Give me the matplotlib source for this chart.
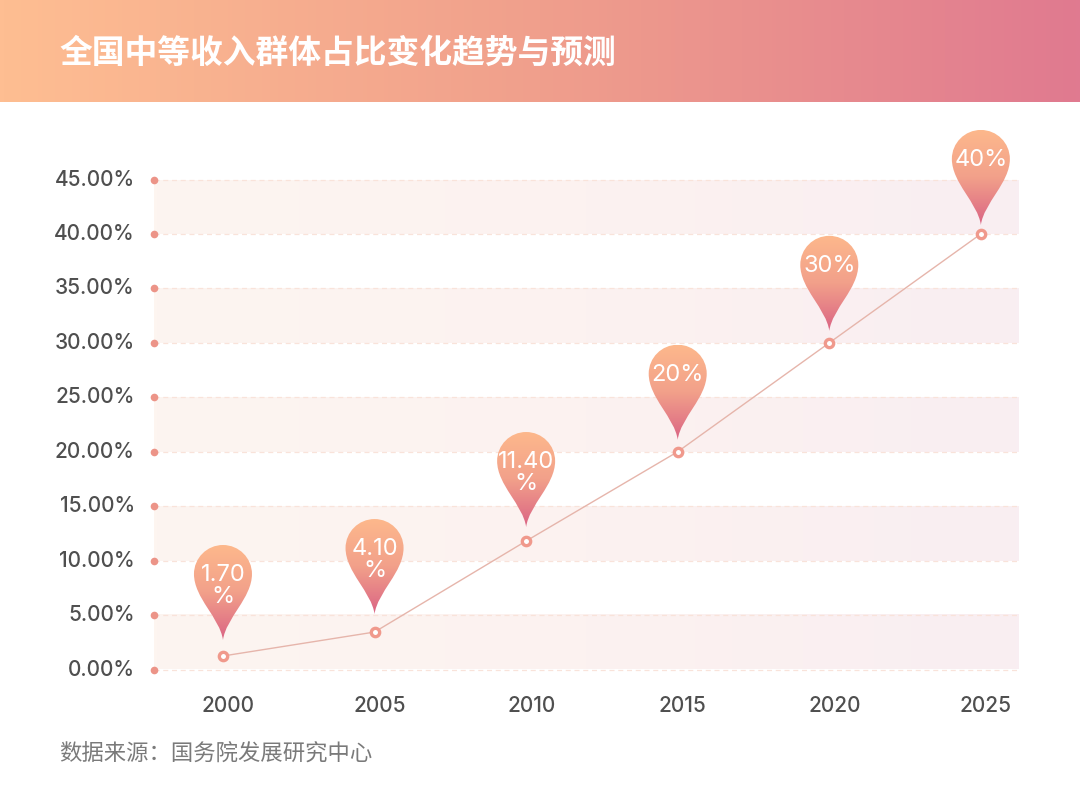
import matplotlib
matplotlib.use('Agg')
import matplotlib.pyplot as plt
import numpy as np
from matplotlib.colors import LinearSegmentedColormap
from matplotlib.path import Path
from matplotlib.patches import PathPatch
from matplotlib.transforms import IdentityTransform

plt.rcParams['font.family'] = ['Inter', 'Noto Sans CJK SC', 'DejaVu Sans']

title = '全国中等收入群体占比变化趋势与预测'
source = '数据来源：国务院发展研究中心'
years = ['2000', '2005', '2010', '2015', '2020', '2025']
values = [1.24, 3.44, 11.8, 20, 30, 40]  # 点的实际位置
labels = ['1.70\n%', '4.10\n%', '11.40\n%', '20%', '30%', '40%']
yticks = [0, 5, 10, 15, 20, 25, 30, 35, 40, 45]
ylabels = ['%.2f%%' % v for v in yticks]

W, H = 1080, 791
fig = plt.figure(figsize=(W / 100, H / 100), dpi=100, facecolor='white')

# 顶部渐变标题栏
head = fig.add_axes([0, 1 - 102.5 / H, 1, 102.5 / H])
cmap_head = LinearSegmentedColormap.from_list('head', ['#FEBE92', '#F09F8C', '#E07A90'])
head.imshow(np.linspace(0, 1, 256).reshape(1, -1), cmap=cmap_head, aspect='auto', extent=[0, 1, 0, 1])
head.axis('off')
head.text(59 / W, 0.48, title, color='white', fontsize=23.6, fontweight='bold', va='center', ha='left',
          transform=head.transAxes, family=['Noto Sans CJK SC', 'DejaVu Sans'])

# 主图：y 0 -> 669.5px, 45 -> 179.5px
ax = fig.add_axes([154 / W, (H - 669.5) / H, (1018 - 154) / W, 490 / H])
x = np.arange(len(years))
ax.set_facecolor('none')
for s in ax.spines.values():
    s.set_visible(False)
ax.set_xticks([])
ax.set_yticks([])

# 隔行色带
cmap_band = LinearSegmentedColormap.from_list('band', ['#FDF5F0', '#FCF2F0', '#F9EEF2'])
for low in yticks[0::2]:
    ax.imshow(np.linspace(0, 1, 256).reshape(1, -1), cmap=cmap_band, aspect='auto',
              extent=[-0.455, 5.245, low, low + 5], zorder=0)
ax.set_xlim(-0.455, 5.245)
ax.set_ylim(0, 45)

# 虚线网格 + 左边的小圆点
for v, lab in zip(yticks, ylabels):
    ax.axhline(v, color='#F9E3DA', lw=0.9, ls=(0, (4, 3)), zorder=1, clip_on=False)
    ax.plot([0], [v], 'o', ms=5.5, color='#EC9488', mec='none', zorder=3, clip_on=False,
            transform=ax.get_yaxis_transform())
    ax.annotate(lab, xy=(0, v), xycoords=ax.get_yaxis_transform(), xytext=(-19, 0),
                textcoords='offset pixels', ha='right', va='center', fontsize=15, color='#4F4F4F',
                fontweight=500)

for i, yr in enumerate(years):
    ax.annotate(yr, xy=(i, 0), xycoords='data', xytext=(5, -37), textcoords='offset pixels',
                ha='center', va='center', fontsize=15, color='#4F4F4F', fontweight=500,
                annotation_clip=False)

# 折线
ax.plot(x, values, color='#E6B5AB', lw=1.0, zorder=4)
ax.plot(x, values, 'o', ms=6, mfc='white', mec='#F0998C', mew=2.4, zorder=5)

fig.text(59 / W, 1 - 754 / H, source, color='#7A7A7A', fontsize=16.1, va='center', ha='left',
         family=['Noto Sans CJK SC', 'DejaVu Sans'])

# 水滴形标注，tip 为尖端，单位是像素
pin_gap = [16, 18, 14, 12, 12, 9]
k = 0.5523 * 29
verts = [(0, 0), (-3, 22), (-29, 42), (-29, 66),
         (-29, 66 + k), (-k, 95), (0, 95),
         (k, 95), (29, 66 + k), (29, 66),
         (29, 42), (3, 22), (0, 0), (0, 0)]
codes = [Path.MOVETO] + [Path.CURVE4] * 12 + [Path.CLOSEPOLY]
cmap_pin = LinearSegmentedColormap.from_list('pin', ['#FDB88C', '#F2A08A', '#DA6484'])
fig.canvas.draw()
for i, (v, gap, lab) in enumerate(zip(values, pin_gap, labels)):
    px, py = ax.transData.transform((i, v))
    tip_y = py + gap
    path = Path(np.array(verts) + [px, tip_y], codes)
    im = ax.imshow(np.linspace(0, 1, 128).reshape(-1, 1), cmap=cmap_pin, aspect='auto', origin='upper',
                   extent=[px - 30, px + 30, tip_y, tip_y + 95], transform=IdentityTransform(), zorder=6)
    patch = PathPatch(path, transform=IdentityTransform(), fc='none', ec='none')
    ax.add_patch(patch)
    im.set_clip_box(fig.bbox)
    im.set_clip_path(patch)
    text_y = tip_y + (54 if '\n' in lab else 65)
    ax.text(px, text_y, lab, transform=IdentityTransform(), color='white', fontsize=17,
            ha='center', va='center', linespacing=1.02, zorder=7, clip_on=False)

ax.set_xlim(-0.455, 5.245)
ax.set_ylim(0, 45)
fig.savefig('out.png', dpi=100, facecolor='white')
